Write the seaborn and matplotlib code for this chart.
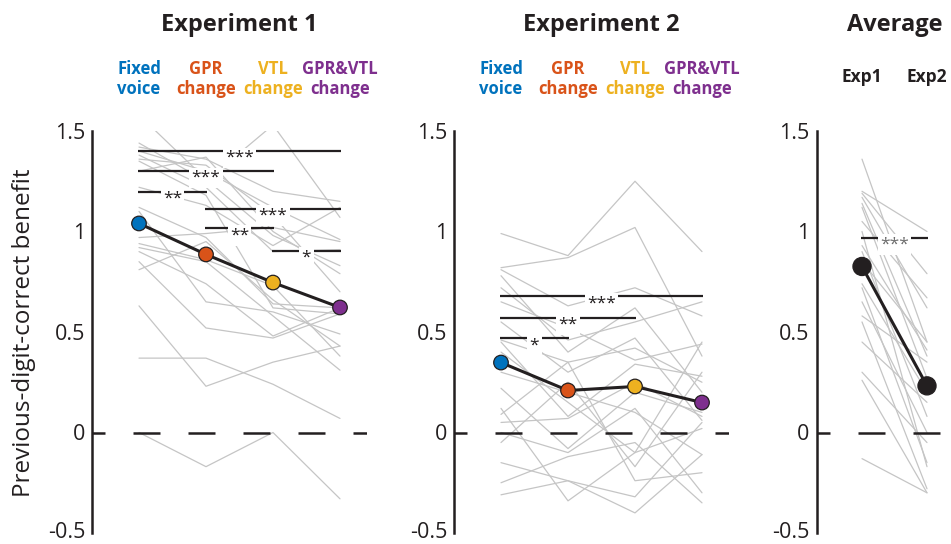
import numpy as np
import pandas as pd
import matplotlib
matplotlib.use("Agg")
import matplotlib.pyplot as plt
import matplotlib.transforms as mtrans
import seaborn as sns

# ---------------- data ----------------
titles = ["Experiment 1", "Experiment 2", "Average"]
conditions = ["Fixed\nvoice", "GPR\nchange", "VTL\nchange", "GPR&VTL\nchange"]
cond_colors = ["#0072BD", "#D95319", "#EDB120", "#7E2F8E"]
avg_labels = ["Exp1", "Exp2"]
ytick_values = [-0.5, 0, 0.5, 1, 1.5]
ytick_labels = ["-0.5", "0", "0.5", "1", "1.5"]

# Experiment 1 individual subjects
exp1_fixed = [1.58, 1.44, 1.42, 1.40, 1.38, 1.36, 1.35, 1.30, 1.22, 1.12,
              1.10, 0.97, 0.94, 0.92, 0.90, 0.85, 0.81, 0.63, 0.37, 0.00]
exp1_gpr = [1.26, 1.25, 1.36, 1.30, 1.22, 1.33, 1.18, 1.37, 1.13, 0.97,
            0.65, 0.99, 0.86, 0.85, 0.74, 0.52, 0.95, 0.23, 0.37, -0.17]
exp1_vtl = [0.98, 1.53, 1.20, 1.12, 0.90, 1.08, 0.62, 1.00, 0.93, 0.64,
            0.60, 1.02, 0.73, 0.58, 0.48, 0.47, 0.66, 0.35, 0.24, 0.00]
exp1_both = [0.83, 1.07, 1.15, 0.96, 0.91, 0.70, 0.59, 0.79, 1.12, 0.62,
             0.49, 0.95, 0.38, 0.31, 0.62, 0.59, 0.43, 0.43, 0.07, -0.33]
exp1_mean = [1.04, 0.886, 0.746, 0.622]

# Experiment 2 individual subjects
exp2_fixed = [0.99, 0.82, 0.81, 0.78, 0.72, 0.65, 0.55, 0.46, 0.45, 0.40,
              0.30, 0.22, 0.09, 0.05, 0.00, -0.05, -0.15, -0.25, -0.31, 0.12]
exp2_gpr = [0.88, 0.87, 0.63, 0.40, 0.46, 0.52, 0.30, 0.35, 0.08, 0.15,
            0.20, -0.08, 0.35, 0.07, -0.10, 0.25, -0.24, -0.12, -0.24, -0.34]
exp2_vtl = [1.25, 1.02, 0.72, 0.62, 0.55, 0.36, 0.47, 0.42, 0.34, -0.10,
            0.10, 0.20, -0.24, 0.25, 0.12, -0.17, -0.32, -0.05, -0.40, -0.10]
exp2_both = [0.90, 0.38, 0.58, 0.20, 0.65, 0.44, 0.06, 0.25, 0.28, 0.45,
             -0.11, 0.10, -0.20, 0.08, -0.30, 0.30, 0.05, -0.35, -0.11, 0.02]
exp2_mean = [0.348, 0.209, 0.229, 0.149]

# Average per subject
avg_exp1 = [1.36, 1.20, 1.19, 1.17, 1.14, 1.12, 1.05, 1.00, 0.93, 0.90,
            0.85, 0.74, 0.72, 0.65, 0.58, 0.55, 0.45, 0.30, 0.26, -0.13]
avg_exp2 = [0.45, 1.00, 0.79, 0.62, 0.38, 0.27, 0.67, -0.17, 0.41, 0.08,
            0.45, 0.20, -0.15, 0.00, 0.35, -0.28, 0.15, -0.05, -0.30, -0.30]
avg_mean = [0.826, 0.232]

# significance bars (from condition, to condition, height, label)
sig1_from = [0, 0, 0, 1, 1, 2]
sig1_to = [3, 2, 1, 3, 2, 3]
sig1_y = [1.40, 1.30, 1.195, 1.114, 1.015, 0.905]
sig1_txt = ["***", "***", "**", "***", "**", "*"]

sig2_from = [0, 0, 0]
sig2_to = [3, 2, 1]
sig2_y = [0.677, 0.572, 0.468]
sig2_txt = ["***", "**", "*"]

sig3_from = [0]
sig3_to = [1]
sig3_y = [0.97]
sig3_txt = ["***"]

# ---------------- style ----------------
sns.set_style("white")
plt.rcParams["font.family"] = ["Open Sans", "DejaVu Sans"]
INK = "#231f20"
GRAY = "#c5c5c5"

W, H = 951, 544
fig = plt.figure(figsize=(W / 100, H / 100), dpi=100)

bottom = 11 / H
height = 402 / H
XLIM = (-0.7, 3.4)
ax1 = fig.add_axes([92.1 / W, bottom, 274.7 / W, height])
ax2 = fig.add_axes([454.1 / W, bottom, 274.7 / W, height])
ax3 = fig.add_axes([816.5 / W, bottom, 266.5 / W, height])


def long_df(columns, labels):
    df = pd.DataFrame({lab: col for lab, col in zip(labels, columns)})
    df["subject"] = np.arange(len(df))
    out = df.melt(id_vars="subject", var_name="cond", value_name="value")
    out["pos"] = out["cond"].map({lab: i for i, lab in enumerate(labels)})
    return out


def style_axes(ax):
    ax.set_xlim(*XLIM)
    ax.set_ylim(-0.5, 1.5)
    for s in ["top", "right", "bottom"]:
        ax.spines[s].set_visible(False)
    ax.spines["left"].set_linewidth(1.8)
    ax.spines["left"].set_color(INK)
    ax.set_xticks([])
    ax.set_yticks(ytick_values)
    ax.set_yticklabels(ytick_labels)
    ax.tick_params(axis="y", direction="in", length=5, width=1.8, color=INK,
                   labelsize=15.5, labelcolor=INK, pad=5)
    # nudge the bottom label up a little so it stays inside the figure
    lab0 = ax.get_yticklabels()[0]
    lab0.set_transform(lab0.get_transform() +
                       mtrans.ScaledTranslation(0, 3 / 100, fig.dpi_scale_trans))
    ax.set_xlabel("")
    ax.set_ylabel("")
    ax.patch.set_alpha(0)
    # dashed zero line
    ax.plot([-0.91, 6], [0, 0], color=INK, lw=1.8, dashes=(10.8, 11.2),
            dash_capstyle="butt", zorder=2)


STAR_FS = 12.5


def sig_bars(ax, f, t, y, txt, color=INK):
    for a, b, yy, s in zip(f, t, y, txt):
        ax.plot([a - 0.01, b + 0.01], [yy, yy], color=INK, lw=1.6,
                solid_capstyle="butt", zorder=3)
        tr = mtrans.offset_copy(ax.transData, fig=fig, x=0, y=-0.62 * STAR_FS,
                                units="points")
        ax.text((a + b) / 2, yy, s, transform=tr, ha="center", va="baseline",
                fontsize=STAR_FS, color=color, zorder=4,
                bbox=dict(facecolor="white", edgecolor="none", pad=1.6))


def panel(ax, cols, labels, means, colors, f, t, y, txt, msize, star_color=INK):
    df = long_df(cols, labels)
    sns.lineplot(data=df, x="pos", y="value", units="subject", estimator=None,
                 color=GRAY, linewidth=0.9, ax=ax, legend=False, zorder=1)
    style_axes(ax)
    sig_bars(ax, f, t, y, txt, star_color)
    pos = np.arange(len(means))
    sns.lineplot(x=pos, y=means, color=INK, linewidth=2.2, ax=ax, zorder=5,
                 legend=False)
    sns.scatterplot(x=pos, y=means, hue=labels, palette=colors, s=msize,
                    edgecolor=INK, linewidth=0.9, ax=ax, legend=False, zorder=6)
    ax.set_xlabel("")
    ax.set_ylabel("")
    ax.set_xlim(*XLIM)


panel(ax1, [exp1_fixed, exp1_gpr, exp1_vtl, exp1_both], conditions, exp1_mean,
      cond_colors, sig1_from, sig1_to, sig1_y, sig1_txt, 110)
panel(ax2, [exp2_fixed, exp2_gpr, exp2_vtl, exp2_both], conditions, exp2_mean,
      cond_colors, sig2_from, sig2_to, sig2_y, sig2_txt, 110)
panel(ax3, [avg_exp1, avg_exp2], avg_labels, avg_mean, [INK, INK],
      sig3_from, sig3_to, sig3_y, sig3_txt, 170, star_color="#6d6d6d")

# titles and condition labels
title_y = 1 - 25 / H
for ax, title, cx in zip([ax1, ax2, ax3], titles, [1.5, 1.5, 0.5]):
    tr = mtrans.blended_transform_factory(ax.transData, fig.transFigure)
    ax.text(cx, title_y, title, transform=tr, ha="center", va="center",
            fontsize=17, fontweight="bold", color=INK, clip_on=False)

cond_y = 1 - 79 / H
for ax in [ax1, ax2]:
    tr = mtrans.blended_transform_factory(ax.transData, fig.transFigure)
    for i, (lab, c) in enumerate(zip(conditions, cond_colors)):
        ax.text(i, cond_y, lab, transform=tr, ha="center", va="center",
                fontsize=12, fontweight="bold", color=c, linespacing=1.2,
                clip_on=False)

tr3 = mtrans.blended_transform_factory(ax3.transData, fig.transFigure)
for i, lab in enumerate(avg_labels):
    ax3.text(i, 1 - 77 / H, lab, transform=tr3, ha="center", va="center",
             fontsize=12.5, fontweight="bold", color=INK, clip_on=False)

fig.text(24 / W, 1 - 333 / H, "Previous-digit-correct benefit", rotation=90,
         ha="center", va="center", fontsize=17.5, color=INK)

fig.savefig("out.png", dpi=100)
